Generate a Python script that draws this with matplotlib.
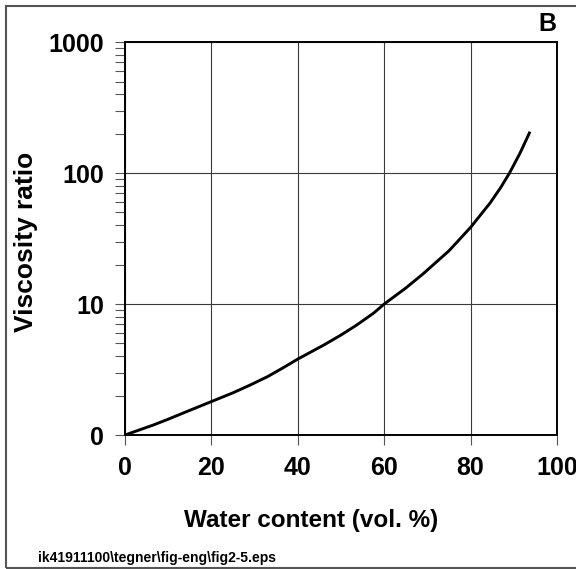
#!/usr/bin/env python3
"""Viscosity ratio vs water content (fig 2-5 B)."""

import matplotlib

matplotlib.use("Agg")
import matplotlib.pyplot as plt
from matplotlib.patches import Rectangle
from matplotlib.ticker import FixedLocator, FixedFormatter, LogLocator, NullFormatter

WATER_CONTENT = [0, 6.5, 10, 14.3, 20, 25, 29, 33, 36.6, 40, 46, 50, 53.6, 57.5,
                 60, 65, 69, 75, 80, 84.5, 87, 89, 91.4, 93.75]
VISCOSITY_RATIO = [1, 1.19, 1.32, 1.51, 1.80, 2.10, 2.41, 2.79, 3.26, 3.80, 4.86,
                   5.8, 6.9, 8.5, 10.0, 13.25, 17.0, 25.5, 38.5, 59, 77.8, 100,
                   141, 207]

X_TICKS = [0, 20, 40, 60, 80, 100]
Y_TICKS = [1, 10, 100, 1000]
Y_TICK_LABELS = ["0", "10", "100", "1000"]

plt.rcParams["font.family"] = ["Liberation Sans", "DejaVu Sans"]

fig = plt.figure(figsize=(5.76, 5.69), dpi=100)
ax = fig.add_axes([0.217, 0.2355, 0.75, 0.6905])

ax.plot(WATER_CONTENT, VISCOSITY_RATIO, color="black", lw=2.1,
        solid_capstyle="butt", solid_joinstyle="round")

ax.set_yscale("log")
ax.set_xlim(0, 100)
ax.set_ylim(1, 1000)

ax.xaxis.set_major_locator(FixedLocator(X_TICKS))
ax.yaxis.set_major_locator(FixedLocator(Y_TICKS))
ax.yaxis.set_major_formatter(FixedFormatter(Y_TICK_LABELS))
ax.yaxis.set_minor_locator(LogLocator(base=10, subs=range(2, 10)))
ax.yaxis.set_minor_formatter(NullFormatter())

ax.grid(True, which="major", color="#3a3a3a", lw=0.8)
ax.tick_params(axis="both", which="major", direction="out", length=7, width=0.8,
               color="#555555", labelsize=18, pad=8)
ax.tick_params(axis="y", which="minor", direction="out", length=7, width=0.8,
               color="#555555")
for lbl in ax.get_xticklabels() + ax.get_yticklabels():
    lbl.set_fontweight("bold")
for spine in ax.spines.values():
    spine.set_linewidth(1.4)

fig.text(311 / 576, 1 - 521 / 569, "Water content (vol. %)", fontsize=17.5,
         fontweight="bold", ha="center", va="center")
fig.text(26 / 576, 1 - 242 / 569, "Viscosity ratio", fontsize=19,
         fontweight="bold", ha="center", va="center", rotation=90)

fig.text(0.95, 0.957, "B", fontsize=18, fontweight="bold", ha="center", va="center")
fig.text(0.066, 0.019, "ik41911100\\tegner\\fig-eng\\fig2-5.eps", fontsize=10,
         fontweight="bold", ha="left", va="center")

fig.patches.append(Rectangle((6 / 576, 1 / 569), 1.0, 1 - 7 / 569,
                             transform=fig.transFigure, fill=False,
                             edgecolor="#555555", lw=1.5))

fig.savefig("out.png", dpi=100)
plt.close(fig)
